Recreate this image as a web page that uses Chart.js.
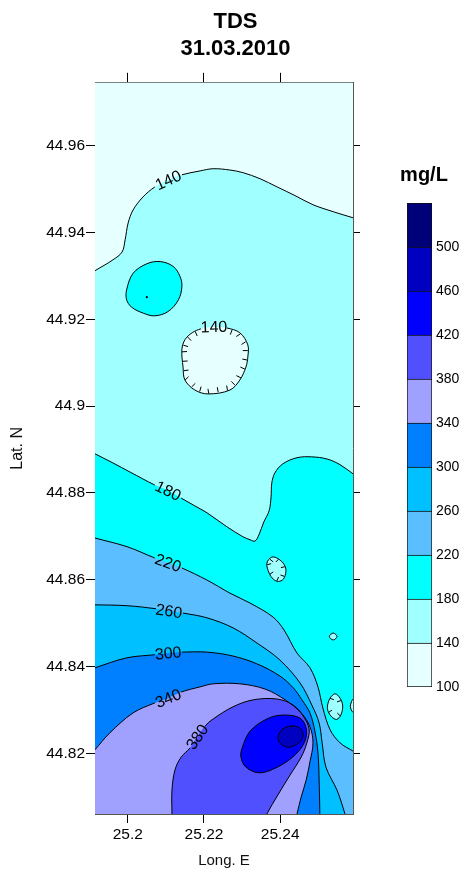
<!DOCTYPE html>
<html>
<head>
<meta charset="utf-8">
<title>TDS 31.03.2010</title>
<script src="https://cdn.jsdelivr.net/npm/chart.js@4.4.1/dist/chart.umd.min.js"></script>
<style>
  html, body { margin: 0; padding: 0; background: #fff; overflow: hidden; width: 465px; height: 870px; }
  #map { position: absolute; left: 0; top: 0; }
  #scaleBar { position: absolute; left: 380px; top: 160px; }
</style>
</head>
<body>
<canvas id="map" width="471" height="870"></canvas>
<canvas id="scaleBar" width="88" height="540"></canvas>
<script>
// ---- axis extents and ticks (decimal degrees) ----
const lonRange = [25.1914, 25.2591];
const latRange = [44.806, 44.9745];
const lonTicks = [25.2, 25.22, 25.24];
const latTicks = [44.82, 44.84, 44.86, 44.88, 44.9, 44.92, 44.94, 44.96];

// ---- TDS classes (mg/L) and their fills ----
const levels = [100, 140, 180, 220, 260, 300, 340, 380, 420, 460, 500, 540];
const levelColors = ['#E6FFFF', '#A0FFFF', '#00FFFF', '#5ABEFF', '#00C0FF', '#0080FF',
                     '#A0A0FF', '#5050FF', '#0000FF', '#0000C0', '#000078'];

// ---- isolines, [longitude, latitude]; open lines run a little past the frame ----
const iso140North = [[25.1901,44.9305],[25.1914,44.9312],[25.1961,44.9337],[25.1985,44.9355],[25.1993,44.9383],
  [25.2001,44.9422],[25.2014,44.9452],[25.2040,44.9482],[25.2071,44.9505],[25.2106,44.9521],[25.2142,44.9533],
  [25.2190,44.9542],[25.2224,44.9547],[25.2268,44.9544],[25.2302,44.9538],[25.2347,44.9524],[25.2392,44.9505],
  [25.2439,44.9485],[25.2486,44.9464],[25.2539,44.9448],[25.2591,44.9434],[25.2604,44.9431]];
const iso180Knoll = [[25.1997,44.9268],[25.2014,44.9306],[25.2050,44.9328],[25.2085,44.9333],[25.2119,44.9322],
  [25.2137,44.9299],[25.2142,44.9276],[25.2133,44.9245],[25.2106,44.9218],[25.2071,44.9208],[25.2041,44.9214],
  [25.2010,44.9228],[25.1997,44.9245]];
const knollPeak = [[25.2050, 44.9251]];
const iso140Hollow = [[25.2142,44.9130],[25.2150,44.9153],[25.2169,44.9169],[25.2192,44.9178],[25.2226,44.9183],
  [25.2260,44.9180],[25.2294,44.9169],[25.2315,44.9141],[25.2315,44.9113],[25.2310,44.9090],[25.2294,44.9060],
  [25.2268,44.9037],[25.2211,44.9028],[25.2176,44.9037],[25.2150,44.9060],[25.2145,44.9090]];
const iso180Main = [[25.1901,44.8896],[25.1914,44.8890],[25.1961,44.8869],[25.2006,44.8848],[25.2071,44.8818],
  [25.2106,44.8805],[25.2140,44.8788],[25.2176,44.8770],[25.2208,44.8754],[25.2260,44.8722],[25.2302,44.8699],
  [25.2321,44.8692],[25.2334,44.8689],[25.2344,44.8703],[25.2357,44.8733],[25.2371,44.8759],[25.2376,44.8791],
  [25.2378,44.8823],[25.2386,44.8846],[25.2407,44.8867],[25.2444,44.8881],[25.2483,44.8883],[25.2523,44.8878],
  [25.2557,44.8865],[25.2591,44.8844],[25.2607,44.8835]];
const iso180HollowA = [[25.2365,44.8638],[25.2378,44.8652],[25.2395,44.8648],[25.2411,44.8634],[25.2415,44.8619],
  [25.2408,44.8601],[25.2395,44.8596],[25.2382,44.8601],[25.2371,44.8615]];
const iso180HollowB = [[25.2529,44.8469],[25.2539,44.8477],[25.2549,44.8469],[25.2539,44.8461]];
const iso180HollowC = [[25.2524,44.8309],[25.2531,44.8327],[25.2544,44.8337],[25.2557,44.8327],[25.2564,44.8309],
  [25.2559,44.8288],[25.2548,44.8278],[25.2535,44.8284],[25.2526,44.8296]];
const iso180HollowD = [[25.2591,44.8325],[25.2586,44.8316],[25.2584,44.8307],[25.2588,44.8297],[25.2591,44.8295],
  [25.2600,44.8295],[25.2600,44.8325]];
const iso220 = [[25.1901,44.8700],[25.1914,44.8696],[25.1998,44.8676],[25.2071,44.8650],[25.2106,44.8639],
  [25.2142,44.8627],[25.2208,44.8599],[25.2268,44.8569],[25.2321,44.8546],[25.2381,44.8514],[25.2410,44.8484],
  [25.2444,44.8431],[25.2478,44.8397],[25.2499,44.8353],[25.2512,44.8304],[25.2531,44.8254],[25.2557,44.8224],
  [25.2591,44.8205],[25.2607,44.8197]];
const iso260 = [[25.1901,44.8542],[25.1914,44.8542],[25.1998,44.8540],[25.2074,44.8533],[25.2108,44.8528],
  [25.2145,44.8523],[25.2208,44.8512],[25.2276,44.8489],[25.2339,44.8454],[25.2399,44.8415],[25.2452,44.8362],
  [25.2483,44.8311],[25.2502,44.8270],[25.2510,44.8224],[25.2520,44.8168],[25.2549,44.8115],[25.2570,44.8060],
  [25.2575,44.8042]];
const iso300 = [[25.1901,44.8393],[25.1914,44.8397],[25.1998,44.8420],[25.2071,44.8427],[25.2106,44.8431],
  [25.2142,44.8433],[25.2208,44.8433],[25.2276,44.8424],[25.2339,44.8406],[25.2399,44.8378],[25.2434,44.8351],
  [25.2457,44.8323],[25.2478,44.8293],[25.2491,44.8251],[25.2499,44.8203],[25.2502,44.8143],[25.2504,44.8060],
  [25.2504,44.8042]];
const iso340 = [[25.1904,44.8197],[25.1914,44.8208],[25.1953,44.8247],[25.2014,44.8293],[25.2071,44.8316],
  [25.2106,44.8327],[25.2140,44.8341],[25.2190,44.8353],[25.2224,44.8360],[25.2294,44.8360],[25.2360,44.8348],
  [25.2413,44.8323],[25.2455,44.8293],[25.2478,44.8261],[25.2486,44.8224],[25.2478,44.8180],[25.2468,44.8138],
  [25.2455,44.8099],[25.2444,44.8060],[25.2439,44.8042]];
const iso380 = [[25.2116,44.8042],[25.2116,44.8060],[25.2116,44.8115],[25.2124,44.8162],[25.2140,44.8191],
  [25.2163,44.8212],[25.2182,44.8238],[25.2203,44.8263],[25.2224,44.8279],[25.2276,44.8307],[25.2329,44.8323],
  [25.2392,44.8325],[25.2434,44.8311],[25.2460,44.8286],[25.2476,44.8256],[25.2470,44.8224],[25.2455,44.8191],
  [25.2426,44.8150],[25.2394,44.8104],[25.2365,44.8060],[25.2357,44.8042]];
const iso420 = [[25.2300,44.8212],[25.2321,44.8251],[25.2365,44.8279],[25.2407,44.8288],[25.2452,44.8281],
  [25.2468,44.8258],[25.2465,44.8228],[25.2441,44.8198],[25.2399,44.8171],[25.2347,44.8155],[25.2310,44.8168],
  [25.2297,44.8191]];
const iso460 = [[25.2394,44.8238],[25.2407,44.8256],[25.2431,44.8263],[25.2452,44.8258],[25.2460,44.8242],
  [25.2449,44.8224],[25.2423,44.8214],[25.2402,44.8221]];

// corners beyond the map used to close the edge-bound zones
const beyondSE = [25.275, 44.79];
const beyondSW = [25.175, 44.79];
const beyondFrame = [[25.17, 44.99], [25.28, 44.99], [25.28, 44.79], [25.17, 44.79]];

const FONT = "'Liberation Sans', Arial, Helvetica, sans-serif";

// zones, painted bottom to top; band = index into levelColors
const zones = [
  { pts: beyondFrame, band: 0, noStroke: true },
  { pts: iso140North, band: 1, tail: [beyondSE, beyondSW], label: { at: 9, text: '140' } },
  { pts: iso180Knoll, band: 2, closed: true },
  { pts: iso140Hollow, band: 0, closed: true, label: { at: 4, text: '140' }, hachure: { step: 9.5, len: 5 } },
  { pts: iso180Main, band: 2, tail: [beyondSE, beyondSW], label: { at: 5, text: '180' } },
  { pts: iso180HollowA, band: 1, closed: true, hachure: { step: 10, len: 4 } },
  { pts: iso180HollowB, band: 1, closed: true },
  { pts: iso180HollowC, band: 1, closed: true, hachure: { step: 16, len: 4 } },
  { pts: iso180HollowD, band: 1, closed: true },
  { pts: iso220, band: 3, tail: [beyondSE, beyondSW], label: { at: 4, text: '220' } },
  { pts: iso260, band: 4, tail: [beyondSW], label: { at: 4, text: '260' } },
  { pts: iso300, band: 5, tail: [beyondSW], label: { at: 4, text: '300' } },
  { pts: iso340, band: 6, tail: [beyondSW], label: { at: 5, text: '340' } },
  { pts: iso380, band: 7, label: { at: 6, text: '380' } },
  { pts: iso420, band: 8, closed: true },
  { pts: iso460, band: 9, closed: true }
];

// closed rings get one extra vertex on each side so the spline runs smoothly through the seam
function ringSequence(pts) {
  const n = pts.length;
  return [pts[n - 1], ...pts, pts[0], pts[1]];
}
const toXY = seq => seq.map(p => ({ x: p[0], y: p[1] }));

// filled areas (no outline)
function zoneFill(z, paintIndex) {
  const seq = z.closed ? ringSequence(z.pts) : z.pts.concat(z.tail || []);
  return {
    data: toXY(seq),
    fill: 'shape',
    backgroundColor: levelColors[z.band],
    borderColor: 'rgba(0,0,0,0)',
    borderWidth: 0,
    tension: 0.35,
    capBezierPoints: false,
    pointRadius: 0,
    order: 200 - paintIndex
  };
}

// isoline strokes, broken where a label sits
function zoneStroke(z) {
  const n = z.pts.length;
  const seq = z.closed ? ringSequence(z.pts) : z.pts;
  const lead = z.closed ? 1 : 0;
  const segCount = z.closed ? n : n - 1;
  const gap = z.label ? [z.label.at + lead - 1, z.label.at + lead] : [];
  const hidden = i => i < lead || i >= lead + segCount || gap.includes(i);
  return {
    data: toXY(seq),
    fill: false,
    borderColor: '#000',
    borderWidth: 1,
    tension: 0.35,
    capBezierPoints: false,
    pointRadius: 0,
    order: 10,
    segment: { borderColor: ctx => hidden(ctx.p0DataIndex) ? 'rgba(0,0,0,0)' : undefined }
  };
}

const datasets = zones.map(zoneFill)
  .concat(zones.filter(z => !z.noStroke).map(zoneStroke));
datasets.push({
  data: toXY(knollPeak),
  showLine: false, fill: false,
  pointRadius: 1.1, pointBackgroundColor: '#000', pointBorderWidth: 0,
  order: 0
});

// contour labels and depression hachures
const isolineMarks = {
  id: 'isolineMarks',
  afterDatasetsDraw(chart) {
    const { ctx, chartArea: a, scales: { x, y } } = chart;
    const P = q => ({ x: x.getPixelForValue(q[0]), y: y.getPixelForValue(q[1]) });
    ctx.save();
    ctx.beginPath();
    ctx.rect(a.left, a.top, a.right - a.left, a.bottom - a.top);
    ctx.clip();
    for (const z of zones) {
      const lab = z.label ? P(z.pts[z.label.at]) : null;
      if (z.hachure) {
        const pp = z.pts.map(P);
        const cx = pp.reduce((s, p) => s + p.x, 0) / pp.length;
        const cy = pp.reduce((s, p) => s + p.y, 0) / pp.length;
        const step = z.hachure.step, len = z.hachure.len;
        let carry = step / 2;
        ctx.beginPath();
        for (let i = 0; i < pp.length; i++) {
          const p0 = pp[i], p1 = pp[(i + 1) % pp.length];
          const dx = p1.x - p0.x, dy = p1.y - p0.y, L = Math.hypot(dx, dy);
          if (!L) continue;
          let s = carry;
          while (s < L) {
            const qx = p0.x + dx * s / L, qy = p0.y + dy * s / L;
            let mx = -dy / L, my = dx / L;
            if ((cx - qx) * mx + (cy - qy) * my < 0) { mx = -mx; my = -my; }
            if (!lab || Math.hypot(qx - lab.x, qy - lab.y) > 16) {
              ctx.moveTo(qx, qy);
              ctx.lineTo(qx + mx * len, qy + my * len);
            }
            s += step;
          }
          carry = s - L;
        }
        ctx.strokeStyle = '#000';
        ctx.lineWidth = 1;
        ctx.stroke();
      }
      if (z.label) {
        const i = z.label.at;
        const p0 = P(z.pts[i - 1]), p1 = P(z.pts[i + 1]);
        let ang = Math.atan2(p1.y - p0.y, p1.x - p0.x);
        if (ang > Math.PI / 2) ang -= Math.PI;
        if (ang < -Math.PI / 2) ang += Math.PI;
        ctx.save();
        ctx.translate(lab.x, lab.y);
        ctx.rotate(ang);
        ctx.font = '16px ' + FONT;
        ctx.fillStyle = '#000';
        ctx.textAlign = 'center';
        ctx.textBaseline = 'middle';
        ctx.fillText(z.label.text, 0, 1);
        ctx.restore();
      }
    }
    ctx.restore();
  }
};

const trimNum = v => String(parseFloat(Number(v).toFixed(4)));

function frameAxis(position, range, ticks, extra) {
  return Object.assign({
    type: 'linear',
    position,
    min: range[0],
    max: range[1],
    afterBuildTicks: s => { s.ticks = ticks.map(v => ({ value: v })); },
    grid: { drawOnChartArea: false, drawTicks: true, color: '#000', lineWidth: 1 },
    border: { display: true, color: '#555', width: 1 }
  }, extra);
}

new Chart(document.getElementById('map'), {
  type: 'line',
  data: { datasets },
  options: {
    responsive: false,
    animation: false,
    devicePixelRatio: 1,
    events: [],
    layout: { padding: 0 },
    plugins: {
      legend: { display: false },
      tooltip: { enabled: false },
      title: {
        display: true,
        text: ['TDS', '31.03.2010'],
        color: '#000',
        font: { family: FONT, size: 22, weight: 'bold', lineHeight: 1.2 },
        padding: { top: 9, bottom: 11 }
      }
    },
    elements: { point: { radius: 0, hoverRadius: 0 } },
    scales: {
      x: frameAxis('bottom', lonRange, lonTicks, {
        afterFit: s => { s.height = 56; },
        grid: { drawOnChartArea: false, color: '#000', tickLength: 9 },
        ticks: { callback: trimNum, color: '#000', font: { family: FONT, size: 15.5 }, padding: 2, maxRotation: 0, autoSkip: false },
        title: { display: true, text: 'Long. E', color: '#111', font: { family: FONT, size: 15 }, padding: { top: 0, bottom: 0 } }
      }),
      xTop: frameAxis('top', lonRange, lonTicks, {
        afterFit: s => { s.height = 10; },
        grid: { drawOnChartArea: false, color: '#000', tickLength: 10 },
        ticks: { display: false }
      }),
      y: frameAxis('left', latRange, latTicks, {
        afterFit: s => { s.width = 95; },
        grid: { drawOnChartArea: false, color: '#000', tickLength: 9 },
        ticks: { callback: trimNum, color: '#000', font: { family: FONT, size: 15.5 }, padding: 1, autoSkip: false },
        title: { display: true, text: 'Lat. N', color: '#111', font: { family: FONT, size: 16 }, padding: { top: 8, bottom: 0 } }
      }),
      yRight: frameAxis('right', latRange, latTicks, {
        afterFit: s => { s.width = 118; },
        grid: { drawOnChartArea: false, color: '#000', tickLength: 7 },
        ticks: { display: false }
      })
    }
  },
  plugins: [isolineMarks]
});

// colour scale bar: one floating bar per TDS class
new Chart(document.getElementById('scaleBar'), {
  type: 'bar',
  data: {
    labels: [''],
    datasets: levelColors.map((c, k) => ({
      data: [[levels[k], levels[k + 1]]],
      xAxisID: 'x',
      yAxisID: 'y',
      backgroundColor: c,
      borderColor: '#111',
      borderWidth: { top: 1, left: 1, right: 1, bottom: k === 0 ? 1 : 0 },
      borderSkipped: false,
      barPercentage: 1,
      categoryPercentage: 1,
      grouped: false
    }))
  },
  options: {
    responsive: false,
    animation: false,
    devicePixelRatio: 1,
    events: [],
    layout: { padding: { left: 0, right: 0, top: 0, bottom: 13 } },
    plugins: {
      legend: { display: false },
      tooltip: { enabled: false },
      title: {
        display: true,
        text: 'mg/L',
        color: '#000',
        font: { family: FONT, size: 20, weight: 'bold', lineHeight: 1.2 },
        padding: { top: 3, bottom: 16 }
      }
    },
    scales: {
      x: { type: 'category', display: false },
      y: {
        type: 'linear',
        position: 'right',
        min: levels[0],
        max: levels[levels.length - 1],
        afterBuildTicks: s => { s.ticks = levels.slice(0, levels.length - 1).map(v => ({ value: v })); },
        afterFit: s => { s.width = 36; },
        grid: { display: false, drawTicks: false },
        border: { display: false },
        ticks: { color: '#000', font: { family: FONT, size: 14 }, padding: 4, autoSkip: false }
      },
      // empty spacer on the left keeps the bar clear of the canvas edge
      spacer: {
        type: 'linear',
        position: 'left',
        min: 0,
        max: 1,
        afterFit: s => { s.width = 27; },
        ticks: { display: false },
        grid: { display: false, drawTicks: false },
        border: { display: false }
      }
    }
  }
});
</script>
</body>
</html>
